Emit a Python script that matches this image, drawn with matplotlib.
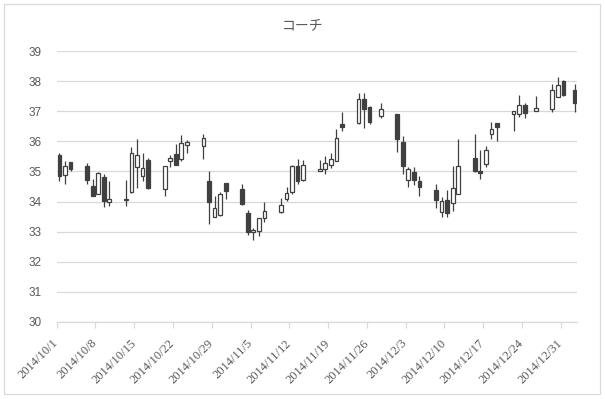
import datetime as dt
import matplotlib
matplotlib.use("Agg")
import matplotlib.pyplot as plt
import matplotlib.dates as mdates
import matplotlib.transforms as mtransforms
from matplotlib.patches import Rectangle

# daily prices (open, high, low, close)
dates = [
    "2014-10-01", "2014-10-02", "2014-10-03", "2014-10-06", "2014-10-07", "2014-10-08",
    "2014-10-09", "2014-10-10", "2014-10-13", "2014-10-14", "2014-10-15", "2014-10-16",
    "2014-10-17", "2014-10-20", "2014-10-21", "2014-10-22", "2014-10-23", "2014-10-24",
    "2014-10-27", "2014-10-28", "2014-10-29", "2014-10-30", "2014-10-31", "2014-11-03",
    "2014-11-04", "2014-11-05", "2014-11-06", "2014-11-07", "2014-11-10", "2014-11-11",
    "2014-11-12", "2014-11-13", "2014-11-14", "2014-11-17", "2014-11-18", "2014-11-19",
    "2014-11-20", "2014-11-21", "2014-11-24", "2014-11-25", "2014-11-26", "2014-11-28",
    "2014-12-01", "2014-12-02", "2014-12-03", "2014-12-04", "2014-12-05", "2014-12-08",
    "2014-12-09", "2014-12-10", "2014-12-11", "2014-12-12", "2014-12-15", "2014-12-16",
    "2014-12-17", "2014-12-18", "2014-12-19", "2014-12-22", "2014-12-23", "2014-12-24",
    "2014-12-26", "2014-12-29", "2014-12-30", "2014-12-31", "2015-01-02",
]
opens = [
    35.53, 34.87, 35.30, 35.17, 34.53, 34.26, 34.83, 33.98, 34.04, 34.32, 35.14, 34.86,
    35.37, 34.42, 35.36, 35.57, 35.41, 35.89, 35.86, 34.67, 33.49, 33.54, 34.63, 34.42,
    33.62, 33.00, 33.03, 33.46, 33.66, 34.09, 34.31, 35.17, 34.73, 35.01, 35.08, 35.22,
    35.36, 36.59, 36.61, 37.42, 37.14, 36.83, 36.90, 35.99, 34.72, 34.99, 34.67, 34.37,
    33.66, 34.06, 33.96, 34.26, 35.46, 35.00, 35.26, 36.26, 36.60, 36.92, 36.92, 37.20,
    37.01, 37.08, 37.48, 38.01, 37.70,
]
highs = [
    35.62, 35.36, 35.33, 35.28, 34.76, 34.99, 34.90, 34.67, 34.72, 35.81, 36.09, 35.62,
    35.43, 35.17, 35.53, 35.90, 36.20, 36.03, 36.26, 35.03, 34.19, 34.33, 34.63, 34.57,
    33.73, 33.13, 33.46, 34.00, 34.12, 34.48, 35.23, 35.42, 35.37, 35.39, 35.50, 35.61,
    36.42, 36.99, 37.59, 37.59, 37.16, 37.28, 36.92, 36.17, 35.16, 35.16, 34.86, 34.59,
    34.14, 34.37, 35.17, 36.09, 36.23, 35.72, 35.84, 36.63, 36.60, 37.00, 37.53, 37.26,
    37.50, 37.92, 38.13, 38.03, 37.90,
]
lows = [
    34.68, 34.59, 35.00, 34.59, 34.18, 34.25, 33.81, 33.84, 33.84, 34.30, 34.44, 34.68,
    34.42, 34.18, 35.14, 35.22, 35.36, 35.62, 35.42, 33.26, 33.49, 33.52, 34.08, 33.89,
    32.90, 32.73, 32.87, 33.33, 33.62, 34.03, 34.26, 34.59, 34.68, 35.01, 34.92, 35.11,
    35.36, 36.34, 36.56, 36.44, 36.59, 36.76, 35.64, 34.90, 34.48, 34.56, 34.18, 33.78,
    33.48, 33.48, 33.68, 34.26, 34.98, 34.74, 35.14, 36.08, 36.00, 36.34, 36.81, 36.78,
    37.01, 36.98, 37.48, 37.50, 36.98,
]
closes = [
    34.84, 35.19, 35.09, 34.72, 34.20, 34.94, 34.01, 34.07, 34.10, 35.62, 35.53, 35.12,
    34.46, 35.17, 35.43, 35.22, 35.93, 35.97, 36.12, 34.00, 33.79, 34.26, 34.36, 33.92,
    32.98, 33.04, 33.46, 33.67, 33.89, 34.29, 35.17, 34.68, 35.20, 35.09, 35.29, 35.42,
    36.12, 36.46, 37.40, 37.09, 36.64, 37.09, 36.08, 35.19, 35.09, 34.70, 34.48, 34.06,
    34.03, 33.62, 34.46, 35.19, 35.03, 34.94, 35.72, 36.42, 36.49, 37.00, 37.20, 36.94,
    37.10, 37.70, 37.86, 37.54, 37.28,
]

title = "コーチ"
y_ticks = list(range(30, 40))
first_day = dt.date(2014, 10, 1)
last_label_day = dt.date(2014, 12, 31)
end_day = dt.date(2015, 1, 3)

grey = "#d9d9d9"
text_col = "#595959"
candle_col = "#404040"

fig = plt.figure(figsize=(6.05, 3.99), dpi=100)
ax = fig.add_axes([56.7 / 605, 1 - 322 / 399, (577.3 - 56.7) / 605, (322 - 51) / 399])

x = [mdates.date2num(dt.date.fromisoformat(d)) + 0.5 for d in dates]

for xi, o, h, l, c in zip(x, opens, highs, lows, closes):
    ax.vlines(xi, l, h, color=candle_col, lw=0.9, zorder=2)
    face = "white" if c >= o else candle_col
    ax.bar(xi, c - o, bottom=o, width=0.68, color=face, edgecolor=candle_col,
           linewidth=0.9, zorder=3)

ax.set_xlim(mdates.date2num(first_day), mdates.date2num(end_day))
ax.set_ylim(30, 39)
ax.set_yticks(y_ticks)
ax.set_yticklabels([str(v) for v in y_ticks], fontsize=8.5, color=text_col,
                   family="Liberation Sans")
ax.yaxis.grid(True, color=grey, lw=0.9)
ax.set_axisbelow(True)

tick_days = []
d = first_day
while d <= last_label_day:
    tick_days.append(d)
    d += dt.timedelta(days=7)
ax.set_xticks([mdates.date2num(t) for t in tick_days])
ax.set_xticklabels([f"{t.year}/{t.month}/{t.day}" for t in tick_days], fontsize=9,
                   color=text_col, family="Liberation Serif", rotation=45,
                   ha="right", va="center", rotation_mode="anchor")
offset = mtransforms.ScaledTranslation(8 / 100, -4 / 100, fig.dpi_scale_trans)
for lbl in ax.get_xticklabels():
    lbl.set_transform(lbl.get_transform() + offset)

ax.tick_params(axis="y", length=0, pad=11)
ax.tick_params(axis="x", length=4, color=grey, width=0.9, pad=10)
for s in ["top", "right", "left"]:
    ax.spines[s].set_visible(False)
ax.spines["bottom"].set_color(grey)
ax.spines["bottom"].set_linewidth(0.9)

fig.text(302.5 / 605, 1 - 25 / 399, title, ha="center", va="center", fontsize=10,
         color=text_col, family=["Noto Sans CJK JP", "DejaVu Sans"])

fig.patches.append(Rectangle((4 / 605, 5 / 399), 596 / 605, 390 / 399,
                             transform=fig.transFigure, fill=False, edgecolor=grey,
                             lw=0.9))

fig.savefig("out.png", dpi=100)
